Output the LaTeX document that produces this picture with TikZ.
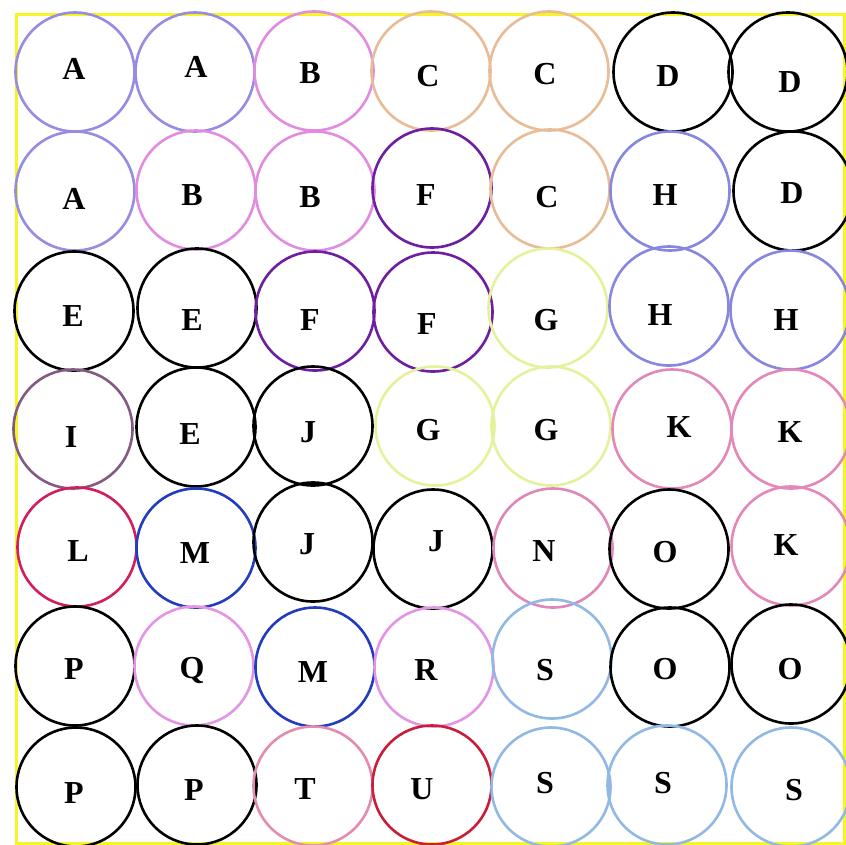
\documentclass[tikz,border=0pt]{standalone}
\usepackage{fontspec}
\setmainfont{Liberation Serif}
\definecolor{cA}{RGB}{150,140,225}
\definecolor{cB}{RGB}{225,140,225}
\definecolor{cC}{RGB}{232,188,150}
\definecolor{cF}{RGB}{110,30,160}
\definecolor{cG}{RGB}{228,242,155}
\definecolor{cH}{RGB}{135,135,225}
\definecolor{cI}{RGB}{130,90,130}
\definecolor{cK}{RGB}{228,135,185}
\definecolor{cL}{RGB}{210,30,90}
\definecolor{cM}{RGB}{35,60,190}
\definecolor{cN}{RGB}{222,135,185}
\definecolor{cQ}{RGB}{228,148,228}
\definecolor{cS}{RGB}{145,185,228}
\definecolor{cT}{RGB}{228,140,175}
\definecolor{cU}{RGB}{200,30,60}
\definecolor{cY}{RGB}{245,245,40}
\tikzset{
  circ/.style={circle,draw=#1,line width=2.6pt,minimum size=119pt,inner sep=0pt},
  lab/.style={font=\fontsize{32}{32}\selectfont\bfseries,inner sep=0pt,text height=21.2pt,text depth=0pt,anchor=center},
  frame/.style={draw=cY,line width=3pt}
}
\begin{document}
\begin{tikzpicture}[x=1pt,y=-1pt]
\useasboundingbox (0,0) rectangle (846,844);
\fill[white] (0,0) rectangle (846,844);
\draw[frame] (16.5,14) rectangle (844.5,843);
% row 0
\node[circ=cA] (c00) at (75,72) {};
\node[circ=cA] (c01) at (195,72) {};
\node[circ=cB] (c02) at (314,71) {};
\node[circ=cC] (c03) at (431,71) {};
\node[circ=cC] (c04) at (549,71) {};
\node[circ=black] (c05) at (673,72) {};
\node[circ=black] (c06) at (788,72) {};
% row 1
\node[circ=cA] (c10) at (75,191) {};
\node[circ=cB] (c11) at (196,190) {};
\node[circ=cB] (c12) at (315,191) {};
\node[circ=cF] (c13) at (432,188) {};
\node[circ=cC] (c14) at (550,189) {};
\node[circ=cH] (c15) at (670,191) {};
\node[circ=black] (c16) at (793,191) {};
% row 2
\node[circ=black] (c20) at (74,311) {};
\node[circ=black] (c21) at (197,308) {};
\node[circ=cF] (c22) at (315,311) {};
\node[circ=cF] (c23) at (433,312) {};
\node[circ=cG] (c24) at (548,308) {};
\node[circ=cH] (c25) at (669,306) {};
\node[circ=cH] (c26) at (790,310) {};
% row 3
\node[circ=cI] (c30) at (73,429) {};
\node[circ=black] (c31) at (196,427) {};
\node[circ=black] (c32) at (313,426) {};
\node[circ=cG] (c33) at (435,426) {};
\node[circ=cG] (c34) at (551,426) {};
\node[circ=cK] (c35) at (672,429) {};
\node[circ=cK] (c36) at (791,429) {};
% row 4
\node[circ=cL] (c40) at (77,547) {};
\node[circ=cM] (c41) at (196,548) {};
\node[circ=black] (c42) at (313,542) {};
\node[circ=black] (c43) at (433,549) {};
\node[circ=cN] (c44) at (553,548) {};
\node[circ=black] (c45) at (669,549) {};
\node[circ=cK] (c46) at (791,546) {};
% row 5
\node[circ=black] (c50) at (75,666) {};
\node[circ=cQ] (c51) at (194,666) {};
\node[circ=cM] (c52) at (315,667) {};
\node[circ=cQ] (c53) at (434,667) {};
\node[circ=cS] (c54) at (552,659) {};
\node[circ=black] (c55) at (670,667) {};
\node[circ=black] (c56) at (791,664) {};
% row 6
\node[circ=black] (c60) at (76,787) {};
\node[circ=black] (c61) at (197,785) {};
\node[circ=cT] (c62) at (313,786) {};
\node[circ=cU] (c63) at (432,785) {};
\node[circ=cS] (c64) at (551,787) {};
\node[circ=cS] (c65) at (667,785) {};
\node[circ=cS] (c66) at (791,787) {};
% labels row 0
\node[lab] (l00) at (74,68.5) {A};
\node[lab] (l01) at (196,67) {A};
\node[lab] (l02) at (310,73) {B};
\node[lab] (l03) at (428,76) {C};
\node[lab] (l04) at (545,74) {C};
\node[lab] (l05) at (668,76) {D};
\node[lab] (l06) at (790,82) {D};
% labels row 1
\node[lab] (l10) at (74,199) {A};
\node[lab] (l11) at (192,195) {B};
\node[lab] (l12) at (310,197) {B};
\node[lab] (l13) at (426,195) {F};
\node[lab] (l14) at (547,197) {C};
\node[lab] (l15) at (665,195) {H};
\node[lab] (l16) at (792,193) {D};
% labels row 2
\node[lab] (l20) at (73,316) {E};
\node[lab] (l21) at (192,320) {E};
\node[lab] (l22) at (310,320) {F};
\node[lab] (l23) at (427,324) {F};
\node[lab] (l24) at (546,320) {G};
\node[lab] (l25) at (660,315) {H};
\node[lab] (l26) at (786,320) {H};
% labels row 3
\node[lab] (l30) at (71,437) {I};
\node[lab] (l31) at (190,434) {E};
\node[lab] (l32) at (308,432) {J};
\node[lab] (l33) at (428,430) {G};
\node[lab] (l34) at (546,430) {G};
\node[lab] (l35) at (679,427) {K};
\node[lab] (l36) at (790,432) {K};
% labels row 4
\node[lab] (l40) at (78,551) {L};
\node[lab] (l41) at (195,553) {M};
\node[lab] (l42) at (307,544) {J};
\node[lab] (l43) at (436,541) {J};
\node[lab] (l44) at (544,551) {N};
\node[lab] (l45) at (665,552) {O};
\node[lab] (l46) at (786,545) {K};
% labels row 5
\node[lab] (l50) at (74,669) {P};
\node[lab] (l51) at (192,668) {Q};
\node[lab] (l52) at (313,672) {M};
\node[lab] (l53) at (426,670) {R};
\node[lab] (l54) at (545,670) {S};
\node[lab] (l55) at (665,669) {O};
\node[lab] (l56) at (790,669) {O};
% labels row 6
\node[lab] (l60) at (74,793) {P};
\node[lab] (l61) at (194,790) {P};
\node[lab] (l62) at (305,789) {T};
\node[lab] (l63) at (422,789) {U};
\node[lab] (l64) at (545,783) {S};
\node[lab] (l65) at (663,783) {S};
\node[lab] (l66) at (794,790) {S};
\end{tikzpicture}
\end{document}
